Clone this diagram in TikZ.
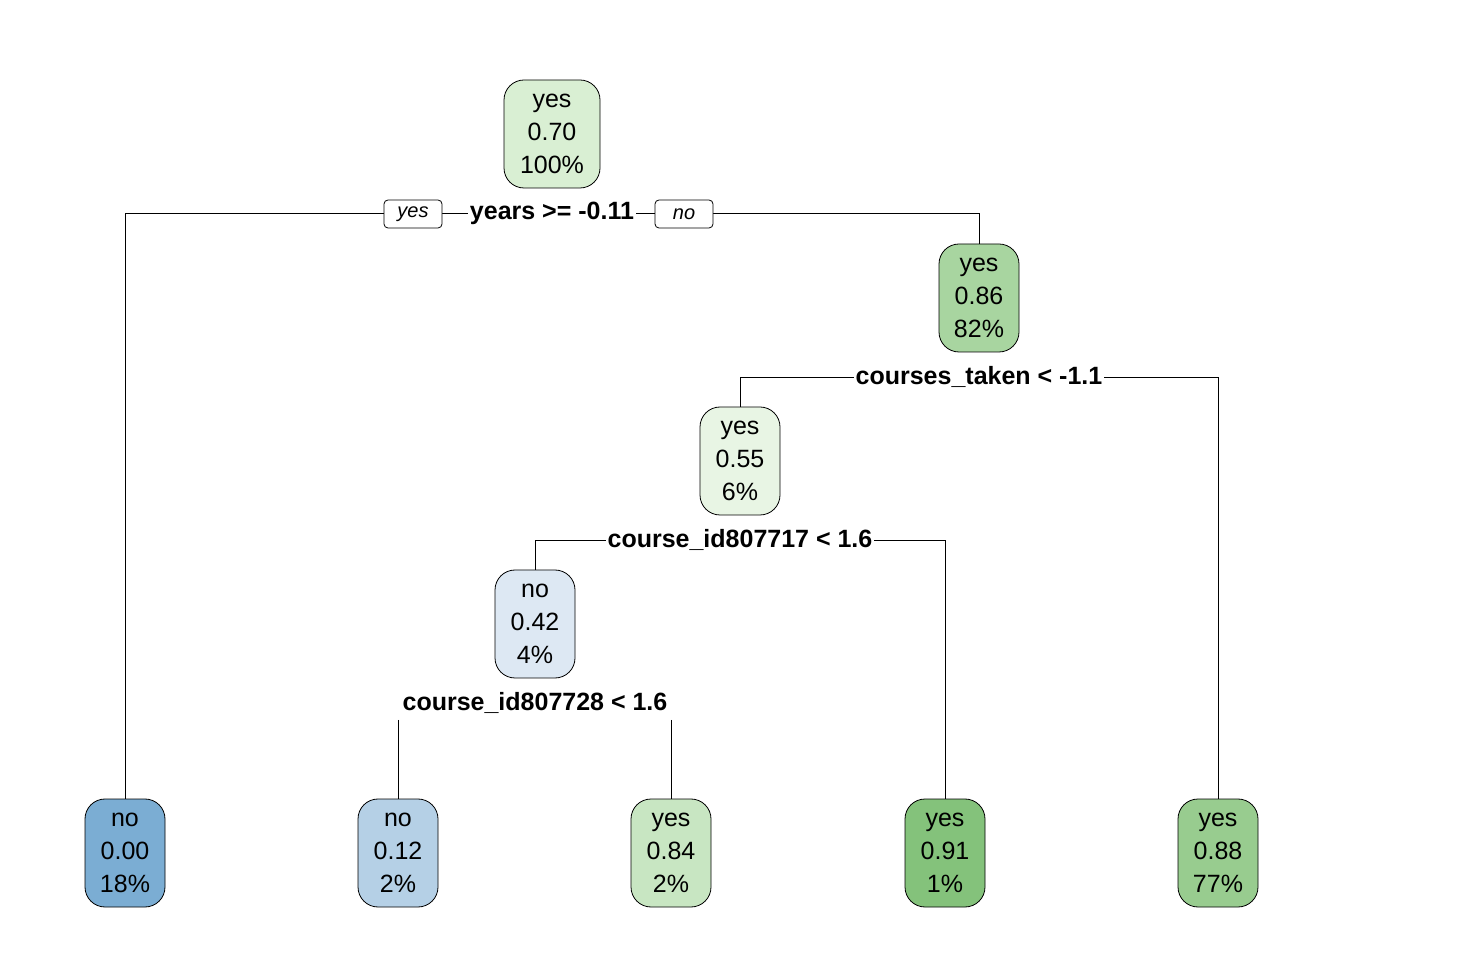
\documentclass[tikz,border=0pt]{standalone}
\usepackage{fontspec}
\setmainfont{Liberation Sans}
\begin{document}
\begin{tikzpicture}[x=0.5pt,y=-0.5pt,
  tn/.style={draw,rounded corners=10pt,minimum height=54pt,inner sep=0pt,align=center,font=\fontsize{12.5}{16.5}\selectfont},
  sp/.style={font=\fontsize{12.5}{15}\selectfont\bfseries,fill=white,inner sep=1pt},
  yn/.style={draw,rounded corners=2pt,fill=white,font=\fontsize{10}{12}\selectfont\itshape,minimum width=29pt,minimum height=14pt,inner sep=1pt},
  ln/.style={line width=0.5pt}]
\useasboundingbox (0,0) rectangle (1458,962);
\definecolor{c1}{HTML}{D9EFD3}
\definecolor{c2}{HTML}{A8D5A0}
\definecolor{c3}{HTML}{E8F5E4}
\definecolor{c4}{HTML}{DDE8F3}
\definecolor{l1}{HTML}{7BADD3}
\definecolor{l2}{HTML}{B5D0E6}
\definecolor{l3}{HTML}{C8E6C2}
\definecolor{l4}{HTML}{84C27B}
\definecolor{l5}{HTML}{98CC8F}
% split lines
\coordinate (s1l) at (125,214); \coordinate (s1r) at (979,214);
\coordinate (s2l) at (740,378); \coordinate (s2r) at (1218,378);
\coordinate (s3l) at (535,541); \coordinate (s3r) at (945,541);
\coordinate (s4l) at (398,720); \coordinate (s4r) at (671,720);
\node[tn,fill=c1,minimum width=48pt] (n1) at (552,134) {yes\\0.70\\100\%};
\node[tn,fill=c2,minimum width=40pt] (n2) at (979,298) {yes\\0.86\\82\%};
\node[tn,fill=c3,minimum width=40pt] (n3) at (740,461) {yes\\0.55\\6\%};
\node[tn,fill=c4,minimum width=40pt] (n4) at (535,624) {no\\0.42\\4\%};
\node[tn,fill=l1,minimum width=40pt] (a) at (125,853) {no\\0.00\\18\%};
\node[tn,fill=l2,minimum width=40pt] (b) at (398,853) {no\\0.12\\2\%};
\node[tn,fill=l3,minimum width=40pt] (c) at (671,853) {yes\\0.84\\2\%};
\node[tn,fill=l4,minimum width=40pt] (d) at (945,853) {yes\\0.91\\1\%};
\node[tn,fill=l5,minimum width=40pt] (e) at (1218,853) {yes\\0.88\\77\%};
\draw[ln] (a.north) -- (s1l) -- (s1r) -- (n2.north);
\draw[ln] (n3.north) -- (s2l) -- (s2r) -- (e.north);
\draw[ln] (n4.north) -- (s3l) -- (s3r) -- (d.north);
\draw[ln] (s4l) -- (b.north);
\draw[ln] (s4r) -- (c.north);
\node[sp] (t1) at (552,213) {years >= -0.11};
\node[yn] (y1) at (413,214) {yes};
\node[yn] (o1) at (684,214) {no};
\node[sp] (t2) at (979,377) {courses\_taken < -1.1};
\node[sp] (t3) at (740,540) {course\_id807717 < 1.6};
\node[sp] (t4) at (535,703) {course\_id807728 < 1.6};
\end{tikzpicture}
\end{document}
